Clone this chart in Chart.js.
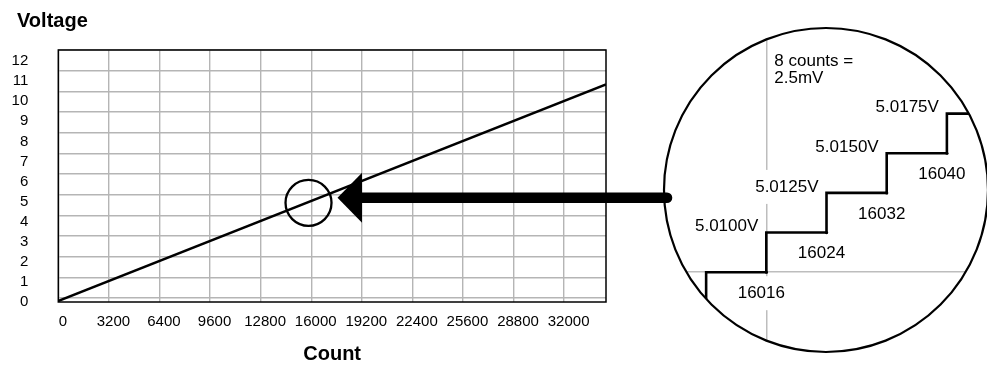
<!DOCTYPE html>
<html>
<head>
<meta charset="utf-8">
<title>Voltage vs Count</title>
<script src="https://cdn.jsdelivr.net/npm/chart.js@4.4.1/dist/chart.umd.min.js"></script>
<style>
    html, body { margin: 0; padding: 0; background: #ffffff; }
    #wrap { position: relative; width: 987px; height: 370px; overflow: hidden; }
    #mainChart { position: absolute; left: 0; top: 0; }
    #zoomChart { position: absolute; left: 660px; top: 24px; }
</style>
</head>
<body>
<div id="wrap">
    <canvas id="mainChart" width="987" height="370"></canvas>
    <canvas id="zoomChart" width="327" height="334"></canvas>
</div>
<script>
/* ===============================
   DATA
=============================== */

// main plot - the straight transfer line
const lineCounts = [0, 34650];
const lineVolts = [-0.15, 10.34];

const xTicks = [0, 3200, 6400, 9600, 12800, 16000, 19200, 22400, 25600, 28800, 32000];
const yTicks = [0, 1, 2, 3, 4, 5, 6, 7, 8, 9, 10, 11, 12];

// the spot that gets magnified, and where the arrow points
const spotCounts = [15830];
const spotVolts = [4.6];
const arrowTip = [17665, 4.85];

// magnified view - staircase
const stepCounts = [16008, 16016, 16024, 16032, 16040, 16048];
const stepVolts = [5.0050, 5.0075, 5.0100, 5.0125, 5.0150, 5.0175];
const zoomGridCounts = [16016];
const zoomGridVolts = [5.0075];
const noteLines = ["8 counts =", "2.5mV"];

/* ===============================
   STYLE
=============================== */

const FONT = '"Liberation Sans", Arial, Helvetica, sans-serif';
const GRID = "#b5b5b5";

// lens circle inside the zoom canvas
const LENS_X = 166;
const LENS_Y = 166;
const LENS_R = 162;
const ZOOM_LEFT = 660;

Chart.defaults.font.family = FONT;
Chart.defaults.color = "#000000";

/* ===============================
   MAIN CHART PLUGIN
=============================== */

const mainOverlay = {

    id: "mainOverlay",

    // title sits a bit right of the tick labels
    afterLayout(chart) {

        if (chart.titleBlock) {
            chart.titleBlock.left = 17;
        }

    },

    beforeDatasetsDraw(chart) {

        const a = chart.chartArea;
        const ctx = chart.ctx;

        ctx.save();
        ctx.strokeStyle = "#000000";
        ctx.lineWidth = 1.5;
        ctx.strokeRect(a.left, a.top, a.right - a.left, a.bottom - a.top);
        ctx.restore();

    },

    afterDraw(chart) {

        const ctx = chart.ctx;
        const tx = chart.scales.x.getPixelForValue(arrowTip[0]);
        const ty = chart.scales.y.getPixelForValue(arrowTip[1]);

        ctx.save();

        // shaft
        ctx.strokeStyle = "#000000";
        ctx.lineWidth = 10.6;
        ctx.lineCap = "round";
        ctx.beginPath();
        ctx.moveTo(tx + 20, ty);
        ctx.lineTo(ZOOM_LEFT + LENS_X - LENS_R + 3, ty);
        ctx.stroke();

        // head
        ctx.fillStyle = "#000000";
        ctx.beginPath();
        ctx.moveTo(tx, ty);
        ctx.lineTo(tx + 24.5, ty - 25);
        ctx.lineTo(tx + 24.5, ty + 25);
        ctx.closePath();
        ctx.fill();

        ctx.restore();

    }

};

/* ===============================
   MAIN CHART
=============================== */

const mainChart = new Chart(document.getElementById("mainChart"), {

    type: "line",

    data: {
        datasets: [
            {
                data: lineCounts.map((c, i) => ({ x: c, y: lineVolts[i] })),
                borderColor: "#000000",
                borderWidth: 2.5,
                pointRadius: 0,
                fill: false
            },
            {
                data: spotCounts.map((c, i) => ({ x: c, y: spotVolts[i] })),
                showLine: false,
                pointRadius: 23,
                pointStyle: "circle",
                pointBorderWidth: 2.3,
                pointBorderColor: "#000000",
                pointBackgroundColor: "rgba(0,0,0,0)"
            }
        ]
    },

    options: {
        responsive: false,
        animation: false,
        events: [],
        layout: {
            padding: { left: 4, right: 381, top: 0, bottom: 0 }
        },
        plugins: {
            legend: { display: false },
            tooltip: { enabled: false },
            title: {
                display: true,
                text: "Voltage",
                align: "start",
                color: "#000000",
                font: { size: 20, weight: "bold" },
                padding: { top: 9, bottom: 17 }
            }
        },
        scales: {
            x: {
                type: "linear",
                position: "bottom",
                min: 0,
                max: 34650,
                afterBuildTicks: s => { s.ticks = xTicks.map(v => ({ value: v })); },
                afterFit: s => { s.height = 68; },
                grid: { color: GRID, lineWidth: 1.4, drawTicks: false },
                border: { display: false },
                ticks: {
                    font: { size: 15 },
                    color: "#000000",
                    padding: 11,
                    labelOffset: 4.5,
                    autoSkip: false,
                    maxRotation: 0,
                    callback: v => String(v)
                },
                title: {
                    display: true,
                    text: "Count",
                    color: "#000000",
                    font: { size: 20, weight: "bold" },
                    padding: { top: 4, bottom: 4 }
                }
            },
            y: {
                type: "linear",
                position: "left",
                min: -0.2,
                max: 12,
                afterBuildTicks: s => { s.ticks = yTicks.map(v => ({ value: v })); },
                afterFit: s => { s.width = 0; },
                grid: { color: GRID, lineWidth: 1.4, drawTicks: false },
                border: { display: false },
                ticks: { display: false }
            },
            yLabels: {
                type: "linear",
                position: "left",
                min: 0,
                max: 12.55,
                afterBuildTicks: s => { s.ticks = yTicks.map(v => ({ value: v })); },
                afterFit: s => { s.width = 54.3; },
                grid: { display: false, drawTicks: false },
                border: { display: false },
                ticks: {
                    font: { size: 15 },
                    color: "#000000",
                    padding: 30,
                    callback: v => String(v)
                }
            }
        }
    },

    plugins: [mainOverlay]

});

/* ===============================
   ZOOM (LENS) PLUGIN
=============================== */

function labelBox(ctx, text, x, y, align) {

    const w = ctx.measureText(text).width;
    const left = align === "right" ? x - w : x - w / 2;

    ctx.fillStyle = "#ffffff";
    ctx.fillRect(left - 2, y - 17, w + 4, 34);

    ctx.fillStyle = "#000000";
    ctx.textAlign = align;
    ctx.fillText(text, x, y);

}

const lensPlugin = {

    id: "lens",

    beforeDraw(chart) {

        const ctx = chart.ctx;

        ctx.save();
        ctx.beginPath();
        ctx.arc(LENS_X, LENS_Y, LENS_R, 0, Math.PI * 2);
        ctx.clip();

    },

    beforeDatasetsDraw(chart) {

        const ctx = chart.ctx;
        const xs = chart.scales.x;
        const ys = chart.scales.y;

        ctx.save();
        ctx.font = "17px " + FONT;
        ctx.textBaseline = "middle";

        // count under each step corner
        for (let i = 1; i < stepCounts.length - 1; i++) {

            const px = xs.getPixelForValue(stepCounts[i]);
            const py = ys.getPixelForValue(stepVolts[i]);

            labelBox(ctx, String(stepCounts[i]), px - 5, py + 21, "center");

        }

        // voltage above each riser
        for (let i = 2; i < stepCounts.length; i++) {

            const px = xs.getPixelForValue(stepCounts[i - 1]);
            const py = ys.getPixelForValue(stepVolts[i]);

            labelBox(ctx, stepVolts[i].toFixed(4) + "V", px - 8, py - 6, "right");

        }

        // note
        const nx = xs.getPixelForValue(zoomGridCounts[0]) + 8;

        ctx.textAlign = "left";
        ctx.fillStyle = "#000000";

        noteLines.forEach((t, i) => {
            ctx.fillText(t, nx, 37 + i * 17.5);
        });

        ctx.restore();

    },

    afterDraw(chart) {

        const ctx = chart.ctx;

        ctx.restore();

        ctx.save();
        ctx.strokeStyle = "#000000";
        ctx.lineWidth = 2.2;
        ctx.beginPath();
        ctx.arc(LENS_X, LENS_Y, LENS_R, 0, Math.PI * 2);
        ctx.stroke();
        ctx.restore();

    }

};

/* ===============================
   ZOOM CHART
=============================== */

const zoomChart = new Chart(document.getElementById("zoomChart"), {

    type: "line",

    data: {
        datasets: [
            {
                data: stepCounts.map((c, i) => ({ x: c, y: stepVolts[i] })),
                stepped: "after",
                borderColor: "#000000",
                borderWidth: 2.6,
                pointRadius: 1.6,
                pointBorderWidth: 0,
                pointBackgroundColor: "#000000",
                fill: false
            }
        ]
    },

    options: {
        responsive: false,
        animation: false,
        events: [],
        layout: { padding: 0 },
        plugins: {
            legend: { display: false },
            tooltip: { enabled: false }
        },
        scales: {
            x: {
                type: "linear",
                min: 16002.4,
                max: 16044.8,
                afterBuildTicks: s => { s.ticks = zoomGridCounts.map(v => ({ value: v })); },
                afterFit: s => { s.height = 0; },
                grid: { color: "#bdbdbd", lineWidth: 1.5, drawTicks: false },
                border: { display: false },
                ticks: { display: false }
            },
            y: {
                type: "linear",
                min: 5.00234,
                max: 5.02290,
                afterBuildTicks: s => { s.ticks = zoomGridVolts.map(v => ({ value: v })); },
                afterFit: s => { s.width = 0; },
                grid: { color: "#bdbdbd", lineWidth: 1.5, drawTicks: false },
                border: { display: false },
                ticks: { display: false }
            }
        }
    },

    plugins: [lensPlugin]

});
</script>
</body>
</html>
